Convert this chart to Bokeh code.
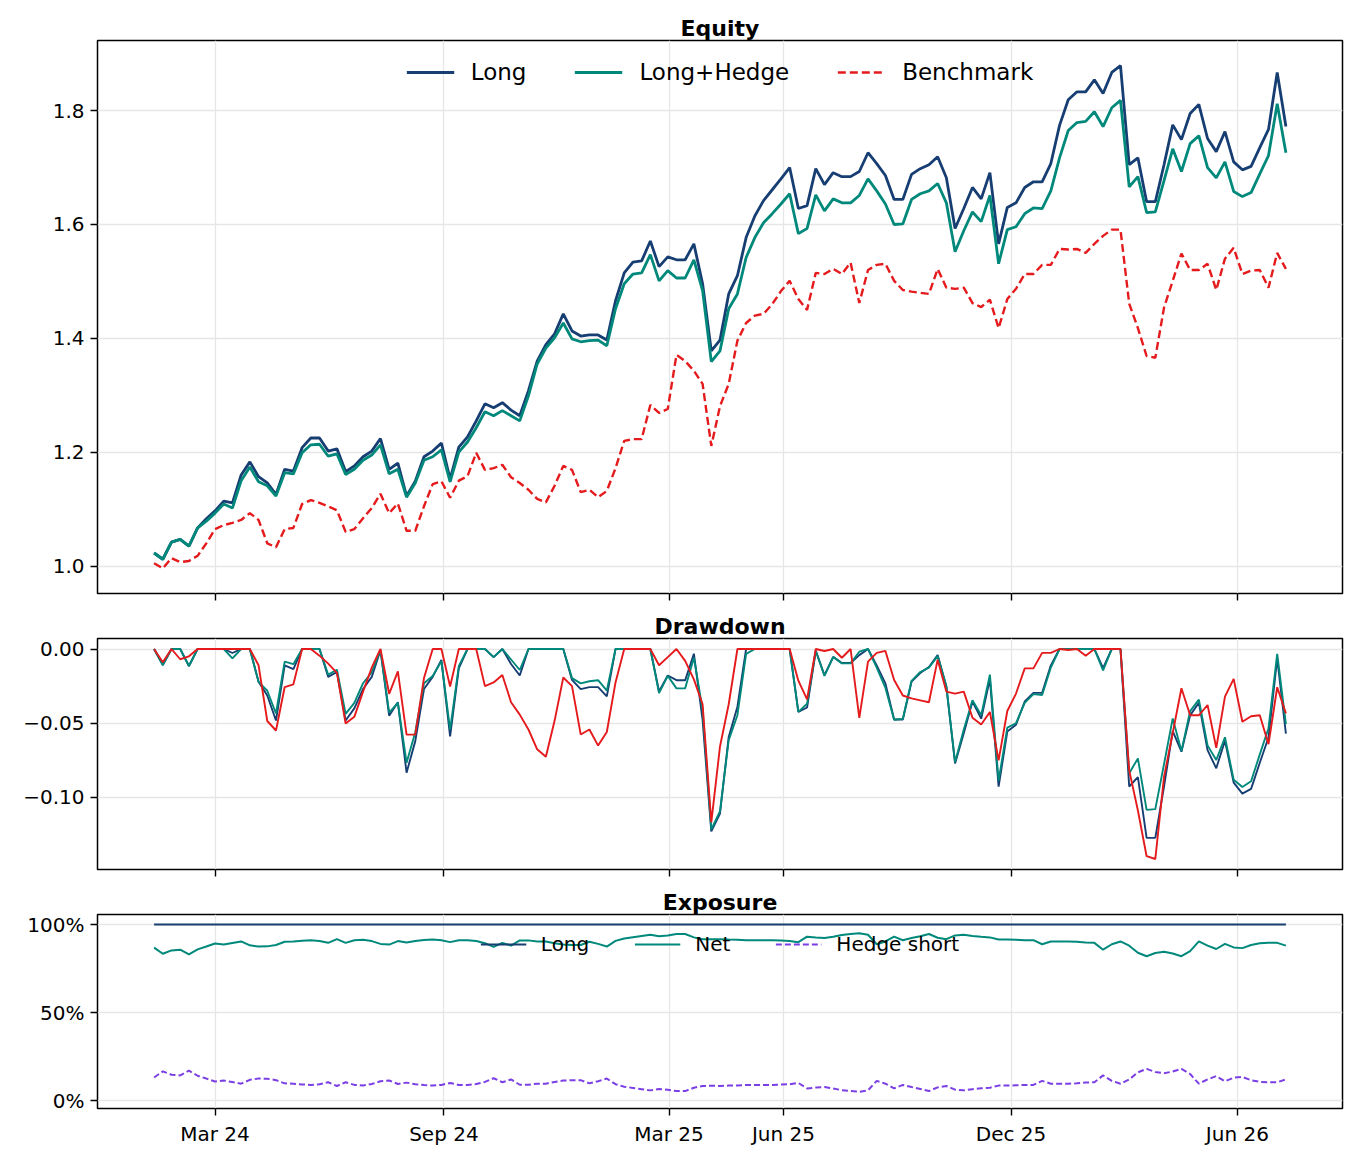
import numpy as np
import pandas as pd
from bokeh.plotting import figure
from bokeh.layouts import column
from bokeh.models import (Range1d, FixedTicker, DatetimeTickFormatter,
                          CustomJSTickFormatter, NumeralTickFormatter)
from bokeh.embed import file_html
from bokeh.resources import INLINE

# ---- data: weekly observations ----
dates = pd.date_range("2024-01-12", periods=131, freq="7D")

long_equity = [
    1.023, 1.012, 1.042, 1.047, 1.035, 1.067, 1.083, 1.097, 1.114, 1.111,
    1.160, 1.183, 1.157, 1.146, 1.126, 1.170, 1.167, 1.208, 1.225, 1.225,
    1.202, 1.206, 1.166, 1.176, 1.192, 1.202, 1.224, 1.170, 1.181, 1.123,
    1.149, 1.192, 1.202, 1.216, 1.153, 1.209, 1.227, 1.255, 1.285, 1.278,
    1.287, 1.274, 1.264, 1.308, 1.360, 1.389, 1.408, 1.443, 1.413, 1.404,
    1.406, 1.406, 1.397, 1.466, 1.515, 1.534, 1.536, 1.571, 1.526, 1.543,
    1.538, 1.538, 1.566, 1.496, 1.378, 1.397, 1.478, 1.510, 1.577, 1.615,
    1.642, 1.661, 1.680, 1.700, 1.628, 1.633, 1.698, 1.670, 1.691, 1.684,
    1.684, 1.693, 1.726, 1.707, 1.686, 1.644, 1.644, 1.688, 1.698, 1.705,
    1.719, 1.682, 1.593, 1.628, 1.665, 1.645, 1.691, 1.566, 1.630, 1.638,
    1.665, 1.675, 1.675, 1.707, 1.774, 1.819, 1.833, 1.833, 1.854, 1.830,
    1.867, 1.879, 1.705, 1.717, 1.640, 1.640, 1.705, 1.775, 1.749, 1.795,
    1.811, 1.751, 1.728, 1.763, 1.710, 1.696, 1.702, 1.735, 1.767, 1.867,
    1.772,
]

hedged_equity = [
    1.023, 1.012, 1.042, 1.047, 1.035, 1.067, 1.079, 1.093, 1.109, 1.102,
    1.150, 1.174, 1.148, 1.141, 1.123, 1.164, 1.162, 1.199, 1.213, 1.214,
    1.193, 1.197, 1.161, 1.170, 1.186, 1.195, 1.213, 1.162, 1.170, 1.121,
    1.146, 1.186, 1.192, 1.204, 1.148, 1.200, 1.218, 1.243, 1.271, 1.264,
    1.273, 1.264, 1.255, 1.299, 1.355, 1.383, 1.401, 1.427, 1.399, 1.394,
    1.396, 1.397, 1.387, 1.452, 1.496, 1.513, 1.515, 1.547, 1.501, 1.519,
    1.506, 1.506, 1.538, 1.484, 1.359, 1.378, 1.452, 1.478, 1.542, 1.577,
    1.603, 1.619, 1.636, 1.654, 1.584, 1.593, 1.652, 1.624, 1.645, 1.638,
    1.638, 1.651, 1.680, 1.659, 1.636, 1.600, 1.601, 1.644, 1.654, 1.659,
    1.672, 1.638, 1.552, 1.589, 1.622, 1.605, 1.651, 1.531, 1.591, 1.596,
    1.619, 1.629, 1.628, 1.659, 1.717, 1.765, 1.779, 1.781, 1.798, 1.772,
    1.805, 1.818, 1.666, 1.684, 1.621, 1.622, 1.677, 1.733, 1.693, 1.742,
    1.756, 1.700, 1.682, 1.710, 1.658, 1.649, 1.656, 1.689, 1.721, 1.812,
    1.726,
]

benchmark_equity = [
    1.005, 0.996, 1.014, 1.007, 1.009, 1.018, 1.040, 1.065, 1.072, 1.076,
    1.081, 1.093, 1.081, 1.040, 1.033, 1.065, 1.067, 1.109, 1.116, 1.111,
    1.105, 1.098, 1.060, 1.065, 1.084, 1.102, 1.127, 1.093, 1.110, 1.062,
    1.062, 1.105, 1.144, 1.149, 1.120, 1.150, 1.158, 1.199, 1.169, 1.172,
    1.178, 1.156, 1.146, 1.134, 1.118, 1.112, 1.141, 1.176, 1.169, 1.130,
    1.134, 1.121, 1.132, 1.172, 1.220, 1.223, 1.223, 1.283, 1.269, 1.276,
    1.371, 1.360, 1.343, 1.320, 1.211, 1.281, 1.320, 1.396, 1.427, 1.440,
    1.443, 1.460, 1.483, 1.501, 1.469, 1.450, 1.515, 1.513, 1.522, 1.513,
    1.533, 1.462, 1.520, 1.529, 1.531, 1.501, 1.485, 1.482, 1.480, 1.478,
    1.522, 1.489, 1.487, 1.489, 1.462, 1.455, 1.468, 1.418, 1.469, 1.487,
    1.513, 1.513, 1.529, 1.529, 1.557, 1.556, 1.557, 1.550, 1.566, 1.580,
    1.591, 1.591, 1.461, 1.418, 1.369, 1.366, 1.454, 1.501, 1.549, 1.520,
    1.520, 1.531, 1.485, 1.540, 1.559, 1.513, 1.519, 1.520, 1.489, 1.550,
    1.522,
]

long_exposure = [1.0] * 131

hedge_short = [
    0.131, 0.166, 0.147, 0.143, 0.170, 0.141, 0.125, 0.108, 0.114, 0.105,
    0.096, 0.118, 0.125, 0.124, 0.116, 0.098, 0.096, 0.092, 0.089, 0.093,
    0.104, 0.083, 0.104, 0.089, 0.086, 0.094, 0.110, 0.114, 0.094, 0.102,
    0.093, 0.088, 0.085, 0.089, 0.100, 0.089, 0.089, 0.094, 0.106, 0.127,
    0.104, 0.120, 0.090, 0.090, 0.096, 0.096, 0.106, 0.114, 0.116, 0.116,
    0.098, 0.110, 0.125, 0.093, 0.079, 0.072, 0.065, 0.058, 0.066, 0.062,
    0.054, 0.054, 0.073, 0.083, 0.084, 0.083, 0.085, 0.086, 0.089, 0.089,
    0.089, 0.089, 0.091, 0.093, 0.100, 0.069, 0.074, 0.077, 0.069, 0.059,
    0.054, 0.050, 0.058, 0.112, 0.096, 0.069, 0.089, 0.077, 0.066, 0.054,
    0.075, 0.083, 0.062, 0.058, 0.065, 0.070, 0.073, 0.085, 0.085, 0.087,
    0.089, 0.089, 0.112, 0.096, 0.096, 0.096, 0.098, 0.102, 0.104, 0.143,
    0.112, 0.096, 0.120, 0.160, 0.180, 0.162, 0.155, 0.165, 0.180, 0.151,
    0.096, 0.120, 0.139, 0.110, 0.130, 0.134, 0.116, 0.106, 0.104, 0.104,
    0.120,
]

x_tick_dates = ["2024-03-01", "2024-09-01", "2025-03-01", "2025-06-01",
                "2025-12-01", "2026-06-01"]

# ---- derived series ----
L = np.array(long_equity)
H = np.array(hedged_equity)
B = np.array(benchmark_equity)


def drawdown(eq):
    return eq / np.maximum.accumulate(eq) - 1.0


dd_long, dd_hedged, dd_bench = drawdown(L), drawdown(H), drawdown(B)
net_exposure = np.array(long_exposure) - np.array(hedge_short)

# ---- styling ----
FONT = "DejaVu Sans"
NAVY = "#173e72"
TEAL = "#00897b"
RED = "#e41a1c"
PURPLE = "#7b3fe4"
GRID = "#e6e6e6"


def padded(lo, hi, frac=0.05):
    m = (hi - lo) * frac
    return Range1d(lo - m, hi + m)


span = dates[-1] - dates[0]
x_range = Range1d((dates[0] - span * 0.05).to_pydatetime(),
                  (dates[-1] + span * 0.05).to_pydatetime())
x_ticks = [pd.Timestamp(d).value // 10**6 for d in x_tick_dates]


def panel(title, frame_height, y_range, top, bottom, show_xlabels):
    p = figure(x_axis_type="datetime", x_range=x_range, y_range=y_range,
               frame_width=1245, frame_height=frame_height,
               min_border_left=97, min_border_right=19,
               min_border_top=top, min_border_bottom=bottom,
               toolbar_location=None, output_backend="svg",
               background_fill_color="white", border_fill_color="white")
    p.title.text = title
    p.title.align = "center"
    p.title.text_font = FONT
    p.title.text_font_size = "22px"
    p.title.text_font_style = "bold"
    p.title.text_color = "black"
    p.title.standoff = 0

    p.outline_line_color = "black"
    p.outline_line_width = 1.5
    p.outline_line_alpha = 1.0

    for ax in (p.xaxis, p.yaxis):
        ax.axis_line_color = None
        ax.major_tick_out = 7
        ax.major_tick_in = 0
        ax.major_tick_line_width = 1.4
        ax.major_tick_line_color = "black"
        ax.minor_tick_line_color = None
        ax.major_label_text_font = FONT
        ax.major_label_text_font_size = "20px"
        ax.major_label_text_color = "black"
        ax.major_label_standoff = 6

    p.xaxis.ticker = FixedTicker(ticks=x_ticks)
    p.xaxis.formatter = DatetimeTickFormatter(
        days="%b %y", months="%b %y", years="%b %y", hours="%b %y")
    if not show_xlabels:
        # shared date axis: tick marks only, labels live on the bottom panel
        p.xaxis.major_label_text_color = None
        p.xaxis.major_label_text_font_size = "1px"
        p.xaxis.major_label_standoff = 0

    p.grid.grid_line_color = GRID
    p.grid.grid_line_width = 1.3
    return p


# ---- Equity ----
eq_lo = min(L.min(), H.min(), B.min())
eq_hi = max(L.max(), H.max(), B.max())
p1 = panel("Equity", 553, padded(eq_lo, eq_hi), 40, 14, False)
p1.yaxis.ticker = FixedTicker(ticks=[1.0, 1.2, 1.4, 1.6, 1.8])
p1.yaxis.formatter = CustomJSTickFormatter(code="return tick.toFixed(1);")
p1.line(dates, L, color=NAVY, line_width=2.8, legend_label="Long")
p1.line(dates, H, color=TEAL, line_width=2.8, legend_label="Long+Hedge")
p1.line(dates, B, color=RED, line_width=2.4, line_dash="8 4",
        legend_label="Benchmark")

# ---- Drawdown ----
dd_lo = min(dd_long.min(), dd_hedged.min(), dd_bench.min())
p2 = panel("Drawdown", 231, padded(dd_lo, 0.0), 31, 14, False)
p2.yaxis.ticker = FixedTicker(ticks=[-0.10, -0.05, 0.0])
p2.yaxis.formatter = CustomJSTickFormatter(
    code="return (tick < -1e-9 ? '\u2212' : '') + Math.abs(tick).toFixed(2);")
p2.line(dates, dd_long, color=NAVY, line_width=1.9)
p2.line(dates, dd_hedged, color=TEAL, line_width=1.9)
p2.line(dates, dd_bench, color=RED, line_width=1.9)

# ---- Exposure ----
p3 = panel("Exposure", 194, Range1d(-0.045, 1.057), 31, 45, True)
p3.yaxis.ticker = FixedTicker(ticks=[0.0, 0.5, 1.0])
p3.yaxis.formatter = NumeralTickFormatter(format="0%")
p3.line(dates, long_exposure, color=NAVY, line_width=2.0, legend_label="Long")
p3.line(dates, net_exposure, color=TEAL, line_width=2.0, legend_label="Net")
p3.line(dates, hedge_short, color=PURPLE, line_width=2.0, line_dash="6 3",
        legend_label="Hedge short")

# ---- legends ----
for p, size, glyph_w, standoff, spacing, pad in ((p1, "23px", 48, 17, 48, 9.5),
                                                 (p3, "20px", 46, 15, 45, 9)):
    lg = p.legend[0]
    lg.location = "top_center"
    lg.orientation = "horizontal"
    lg.background_fill_alpha = 0.0
    lg.border_line_alpha = 0.0
    lg.label_text_font = FONT
    lg.label_text_font_size = size
    lg.label_text_color = "black"
    lg.glyph_width = glyph_w
    lg.label_standoff = standoff
    lg.spacing = spacing
    lg.margin = int(pad)
    lg.padding = int(round(pad))

layout = column(p1, p2, p3, spacing=0)

open("out.html", "w").write(file_html(layout, INLINE))
